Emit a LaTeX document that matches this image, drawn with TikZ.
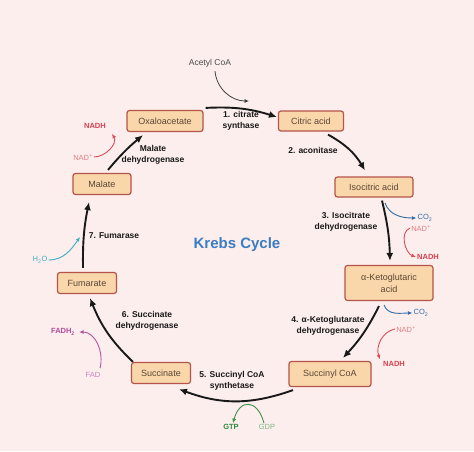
\documentclass[tikz,border=0pt]{standalone}
\usepackage{fontspec}
\setmainfont{Liberation Sans}
\usepackage{xcolor}
\usepackage{tikz}
\usetikzlibrary{calc, positioning, arrows.meta}
\definecolor{bgpink}{HTML}{FCEEEC}
\definecolor{boxfill}{HTML}{F9D7AA}
\definecolor{boxline}{HTML}{B5544A}
\definecolor{boxtext}{HTML}{5A4536}
\definecolor{krebsblue}{HTML}{3B7DC1}
\definecolor{nadred}{HTML}{D8404F}
\definecolor{nadpink}{HTML}{E2808A}
\definecolor{coblue}{HTML}{2F6DA6}
\definecolor{waterteal}{HTML}{3AAEC2}
\definecolor{fadpurple}{HTML}{B04A9C}
\definecolor{fadlight}{HTML}{C985BD}
\definecolor{gtpgreen}{HTML}{2C8A3A}
\definecolor{gdpgreen}{HTML}{7DB887}
\tikzset{
    compound/.style={rectangle, rounded corners=2.5pt, draw=boxline, line width=1.2pt, fill=boxfill, text=boxtext, align=center, minimum height=21pt, inner sep=2pt, font=\fontsize{9}{12}\selectfont},
    enzyme/.style={font=\bfseries\fontsize{8.5}{10.5}\selectfont, align=center, text=black!90},
    cycarrow/.style={-{Latex[length=8pt,width=7pt]}, line width=1.9pt, black!90},
    side/.style={-{Latex[length=4.5pt,width=4pt]}, line width=0.9pt},
    small/.style={font=\fontsize{7.5}{8.5}\selectfont, inner sep=1pt},
    title/.style={font=\bfseries\fontsize{15}{17}\selectfont, text=krebsblue}
}

\begin{document}
\begin{tikzpicture}[x=1pt, y=1pt]
    \fill[bgpink] (0,0) rectangle (474,451);

    % Compounds
    \node[compound, minimum width=76pt] (oxa) at (165,330) {Oxaloacetate};
    \node[compound, minimum width=65pt, minimum height=20pt] (cit) at (311,330) {Citric acid};
    \node[compound, minimum width=78pt, minimum height=20pt] (iso) at (374,264) {Isocitric acid};
    \node[compound, minimum width=88pt, minimum height=35pt] (akg) at (389,168) {α-Ketoglutaric\\acid};
    \node[compound, minimum width=82pt, minimum height=25pt] (sco) at (330,77) {Succinyl CoA};
    \node[compound, minimum width=59pt] (suc) at (161,78) {Succinate};
    \node[compound, minimum width=59pt] (fum) at (87,168) {Fumarate};
    \node[compound, minimum width=58pt] (mal) at (102,267) {Malate};

    \node[title] (krebs) at (237,206) {Krebs Cycle};

    % Enzymes
    \node[enzyme] (e1) at (241,330) {1. citrate\\synthase};
    \node[enzyme] (e2) at (313,301) {2. aconitase};
    \node[enzyme] (e3) at (346,229) {3. Isocitrate\\dehydrogenase};
    \node[enzyme] (e4) at (328,125) {4. α-Ketoglutarate\\dehydrogenase};
    \node[enzyme] (e5) at (232,70) {5. Succinyl CoA\\synthetase};
    \node[enzyme] (e6) at (147,130) {6. Succinate\\dehydrogenase};
    \node[enzyme] (e7) at (114,215) {7. Fumarase};
    \node[enzyme] (e8) at (153,296) {Malate\\dehydrogenase};

    % Main cycle
    \draw[cycarrow] ([xshift=2pt,yshift=2pt]oxa.north east) to[bend left=10] ([xshift=-1pt,yshift=4pt]cit.west);
    \draw[cycarrow] ([xshift=17pt,yshift=-3pt]cit.south) to[bend left=15] ([xshift=-9pt,yshift=6pt]iso.north);
    \draw[cycarrow] ([xshift=8pt,yshift=-3pt]iso.south) to[bend left=6] ([xshift=1pt,yshift=4pt]akg.north);
    \draw[cycarrow] ([xshift=-10pt,yshift=-5pt]akg.south) to[bend left=8] ([xshift=13pt,yshift=3pt]sco.north);
    \draw[cycarrow] ([xshift=-37pt,yshift=-3pt]sco.south) to[bend left=20] ([xshift=18pt,yshift=-5pt]suc.south);
    \draw[cycarrow] ([xshift=2pt]suc.north west) to[bend left=12] ([xshift=3pt,yshift=-4pt]fum.south);
    \draw[cycarrow] ([xshift=-4pt,yshift=4pt]fum.north) to[bend left=6] ([xshift=-13pt,yshift=-7pt]mal.south);
    \draw[cycarrow] ([xshift=6pt,yshift=3pt]mal.north) to[bend left=5] ([xshift=-22pt,yshift=-3pt]oxa.south);

    % Side products
    \node[small, text=black!70, font=\fontsize{8.5}{9}\selectfont] (acetyl) at (210,388) {Acetyl CoA};
    \coordinate (acin) at (249,350);
    \draw[side, black!75, line width=0.8pt] ([xshift=5pt,yshift=-3pt]acetyl.south) to[out=-85, in=180] (acin);

    \node[small, text=coblue] (co2a) at (425,233) {CO\textsubscript{2}};
    \coordinate (b3) at (385,248);
    \draw[side, coblue] (b3) to[out=-70, in=180] (co2a.west);
    \node[small, text=nadpink] (nad3) at (421,223) {NAD\textsuperscript{+}};
    \node[small, text=nadred, font=\bfseries\fontsize{7.5}{8.5}\selectfont] (nadh3) at (428,194) {NADH};
    \draw[side, nadred!80!nadpink] (nad3.west) to[out=200, in=160] (nadh3.west);

    \node[small, text=coblue] (co2b) at (421,138) {CO\textsubscript{2}};
    \coordinate (b4) at (384,146);
    \draw[side, coblue] (b4) to[out=-70, in=180] (co2b.west);
    \node[small, text=nadpink] (nad4) at (406,122) {NAD\textsuperscript{+}};
    \node[small, text=nadred, font=\bfseries\fontsize{7.5}{8.5}\selectfont] (nadh4) at (394,87) {NADH};
    \draw[side, nadred!80!nadpink] (nad4.west) to[out=190, in=110] ([xshift=-2pt,yshift=1pt]nadh4.north west);

    \node[small, text=gtpgreen, font=\bfseries\fontsize{7.5}{8.5}\selectfont] (gtp) at (231,24) {GTP};
    \node[small, text=gdpgreen] (gdp) at (267,24) {GDP};
    \draw[side, gtpgreen!80!gdpgreen] ([xshift=-3pt]gdp.north) to[out=105, in=75, looseness=2.1] ([xshift=2pt]gtp.north);

    \node[small, text=fadlight] (fad) at (93,76) {FAD};
    \node[small, text=fadpurple, font=\bfseries\fontsize{7.5}{8.5}\selectfont] (fadh) at (63,119) {FADH\textsubscript{2}};
    \draw[side, fadpurple!80!fadlight] ([xshift=7pt,yshift=3pt]fad.north) to[out=75, in=0] ([xshift=3pt]fadh.east);

    \node[small, text=waterteal] (water) at (40,191) {H\textsubscript{2}O};
    \coordinate (w7) at (80,214);
    \draw[side, waterteal] (water.east) to[out=0, in=235] (w7);

    \node[small, text=nadpink] (nad8) at (83,294) {NAD\textsuperscript{+}};
    \node[small, text=nadred, font=\bfseries\fontsize{7.5}{8.5}\selectfont] (nadh8) at (95,325) {NADH};
    \draw[side, nadred!80!nadpink] (nad8.east) to[out=0, in=-60] ([xshift=5pt,yshift=-4pt]nadh8.south east);
\end{tikzpicture}
\end{document}
